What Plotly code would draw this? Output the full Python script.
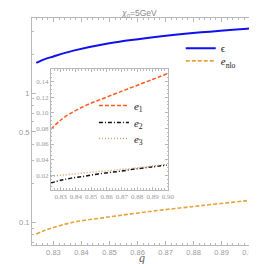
import plotly.graph_objects as go

# Main panel data
g_main = [0.8239, 0.826, 0.83, 0.8371, 0.8485, 0.8656, 0.8827, 0.8991, 0.9]
eps = [1.71, 1.80, 1.92, 2.13, 2.40, 2.70, 2.95, 3.15, 3.16]
eps_nlo = [0.081, 0.085, 0.091, 0.100, 0.109, 0.122, 0.1345, 0.147, 0.148]

# Inset data
g_in = [0.8237, 0.83, 0.8363, 0.8465, 0.8574, 0.8684, 0.8784, 0.889, 0.8994]
e1 = [0.079, 0.0905, 0.099, 0.1095, 0.118, 0.1265, 0.134, 0.142, 0.150]
e2 = [0.010, 0.0135, 0.016, 0.019, 0.0225, 0.025, 0.028, 0.0305, 0.033]
e3 = [0.0187, 0.0200, 0.0212, 0.0232, 0.0252, 0.0272, 0.0292, 0.0315, 0.0340]

main_xticks = [0.83, 0.84, 0.85, 0.86, 0.87, 0.88, 0.89, 0.90]
main_xlabels = ["0.83", "0.84", "0.85", "0.86", "0.87", "0.88", "0.89", "0.90"]
main_yticks = [0.1, 0.5, 1]
main_ylabels = ["0.1", "0.5", "1"]
main_yminor = [0.07, 0.08, 0.09, 0.2, 0.3, 0.4, 0.6, 0.7, 0.8, 0.9, 2, 3]
in_yticks = [0.02, 0.04, 0.06, 0.08, 0.10, 0.12, 0.14]
in_ylabels = ["0.02", "0.04", "0.06", "0.08", "0.10", "0.12", "0.14"]

GRAY = "#9a9a9a"
FRAME = "#b8b8b8"

fig = go.Figure()
fig.add_trace(go.Scatter(x=g_main, y=eps, mode="lines", name="ϵ",
                         line=dict(color="#1010f0", width=2), line_shape="spline",
                         xaxis="x", yaxis="y", legend="legend"))
fig.add_trace(go.Scatter(x=g_main, y=eps_nlo, mode="lines", name="<i>e</i><sub>nlo</sub>",
                         line=dict(color="#e8a23a", width=1.6, dash="4px,2px"), line_shape="spline",
                         xaxis="x", yaxis="y", legend="legend3"))
fig.add_trace(go.Scatter(x=g_in, y=e1, mode="lines", name="<i>e</i><sub>1</sub>",
                         line=dict(color="#ff5a1e", width=1.5, dash="4px,2px"), line_shape="spline",
                         xaxis="x2", yaxis="y2", legend="legend2"))
fig.add_trace(go.Scatter(x=g_in, y=e2, mode="lines", name="<i>e</i><sub>2</sub>",
                         line=dict(color="#111111", width=1.5, dash="4px,2px,1px,2px"), line_shape="spline",
                         xaxis="x2", yaxis="y2", legend="legend4"))
fig.add_trace(go.Scatter(x=g_in, y=e3, mode="lines", name="<i>e</i><sub>3</sub>",
                         line=dict(color="#d4a070", width=1.5, dash="1px,2px"), line_shape="spline",
                         xaxis="x2", yaxis="y2", legend="legend5"))

axcommon = dict(showgrid=False, zeroline=False, showline=True, linecolor=FRAME, linewidth=1,
                ticks="inside", tickcolor=FRAME, mirror="allticks", ticklabeloverflow="allow")


def leg(x, y):
    return dict(x=x, y=y, xanchor="left", yanchor="middle", bgcolor="rgba(0,0,0,0)",
                font=dict(family="Liberation Serif", size=11, color="#222222"),
                itemwidth=30, tracegroupgap=0, visible=True)


fig.update_layout(
    width=257, height=264,
    showlegend=True,
    margin=dict(l=24, r=5, t=10, b=27),
    paper_bgcolor="white", plot_bgcolor="white",
    xaxis=dict(**axcommon, range=[0.82236, 0.90156], tickvals=main_xticks, ticktext=main_xlabels,
               ticklen=4, minor=dict(ticks="inside", ticklen=2, dtick=0.002, tickcolor=FRAME),
               tickfont=dict(family="Liberation Sans", size=7.5, color=GRAY)),
    yaxis=dict(**axcommon, type="log", range=[-1.176, 0.581], tickvals=main_yticks, ticktext=main_ylabels,
               ticklen=4, minor=dict(ticks="inside", ticklen=2, tickvals=main_yminor, tickcolor=FRAME),
               tickfont=dict(family="Liberation Sans", size=7.5, color=GRAY)),
    xaxis2=dict(**axcommon, domain=[0.085, 0.614], anchor="y2", range=[0.8237, 0.9003],
                tickvals=main_xticks, ticktext=main_xlabels, ticklen=3,
                minor=dict(ticks="inside", ticklen=1.5, dtick=0.002, tickcolor=FRAME),
                tickfont=dict(family="Liberation Serif", size=7, color=GRAY)),
    yaxis2=dict(**axcommon, domain=[0.2436, 0.775], anchor="x2", range=[0.0015, 0.156],
                tickvals=in_yticks, ticktext=in_ylabels, ticklen=3,
                minor=dict(ticks="inside", ticklen=1.5, dtick=0.005, tickcolor=FRAME),
                tickfont=dict(family="Liberation Serif", size=7, color=GRAY)),
    legend=leg(0.67, 0.867),
    legend3=leg(0.67, 0.811),
    legend2=leg(0.279, 0.615),
    legend4=leg(0.279, 0.540),
    legend5=leg(0.279, 0.4695),
    annotations=[
        dict(text="<i>χ</i><sub>0</sub>=5GeV", xref="paper", yref="paper", x=0.48, y=1.0,
             xanchor="center", yanchor="bottom", showarrow=False, yshift=-3,
             font=dict(family="Liberation Sans", size=8.5, color="#888888")),
        dict(text="<i>g</i>", xref="paper", yref="paper", x=0.495, y=-0.058,
             xanchor="center", yanchor="middle", showarrow=False,
             font=dict(family="Liberation Serif", size=12, color="#666666")),
    ],
)

fig.write_html("out.html")
